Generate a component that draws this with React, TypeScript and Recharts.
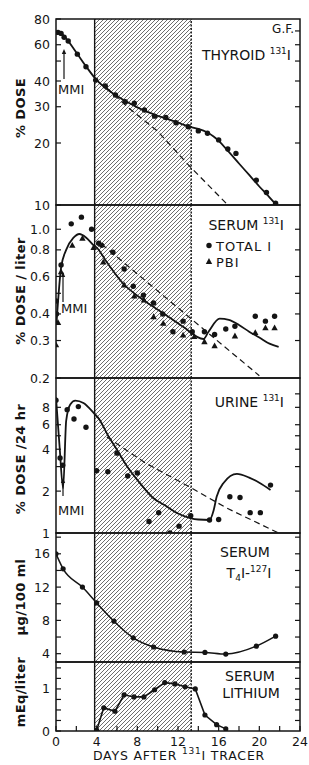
import React from 'react';
import { ComposedChart, Line, Scatter, XAxis, YAxis, ReferenceArea, ReferenceLine } from 'recharts';

const INK = '#141414';
const FONT = '"DejaVu Sans", Verdana, sans-serif';

// thyroid 131I (% dose)
const thyroidDays = [0.2, 0.5, 0.8, 1.2, 2.1, 2.95, 3.9, 4.85, 5.85, 6.8, 7.7, 8.7, 9.7, 10.8, 11.8, 13.0, 14.0, 14.9, 16.0, 16.9, 17.7, 19.7, 20.7, 21.6];
const thyroidDose = [68.9, 68.1, 65.2, 62.6, 54, 46.9, 40.4, 37.8, 34.2, 31.7, 31.2, 28.9, 27, 26.6, 25.1, 24, 22.9, 22.3, 20.7, 18.7, 17.8, 13.2, 11.5, 10.2];
const thyroidFitDays = [0, 0.3, 1, 2, 3, 4, 5, 6, 7, 8, 9, 10, 11, 12, 13, 14, 14.8, 15.5, 16, 17, 18, 19, 20, 21, 21.6];
const thyroidFit = [68, 69, 64.2, 55, 46.8, 40.4, 36.6, 33.8, 31.6, 29.8, 28.3, 27.1, 26.1, 25.1, 24.1, 23.4, 22.6, 21.5, 20.5, 18.1, 15.9, 14.0, 12.3, 10.9, 10.1];
const thyroidExtDays = [5, 7, 10, 13, 16.9];
const thyroidExt = [37, 30, 22.8, 15.7, 10];

// serum 131I (% dose / liter)
const serumTotalDays = [0, 0.05, 0.5, 1.5, 2.5, 3.5, 4.2, 4.5, 5.6, 6.7, 7.6, 8.6, 9.6, 10.5, 11.5, 12.5, 13.4, 14.6, 15.6, 16.7, 17.6, 19.6, 20.6, 21.5];
const serumTotal = [0.46, 0.4, 0.68, 1.06, 1.14, 1.0, 0.86, 0.84, 0.78, 0.65, 0.54, 0.49, 0.45, 0.4, 0.33, 0.37, 0.33, 0.33, 0.32, 0.34, 0.35, 0.39, 0.37, 0.39];
const serumPbiDays = [0, 0.2, 0.5, 1.6, 2.6, 3.7, 4.65, 6.7, 7.7, 8.65, 9.6, 10.55, 12.5, 13.6, 14.6, 15.6, 17.6, 19.6, 20.6, 21.5];
const serumPbi = [0.286, 0.364, 0.63, 0.84, 0.905, 0.82, 0.7, 0.547, 0.485, 0.465, 0.388, 0.361, 0.318, 0.313, 0.296, 0.283, 0.315, 0.327, 0.344, 0.344];
const serumFitDays = [0.05, 0.5, 1.0, 1.7, 2.3, 3.0, 3.7, 4.0, 5, 6.6, 8.6, 10.55, 12.5, 14.5, 15, 16.1, 17, 18, 19, 20, 21, 21.9];
const serumFit = [0.36, 0.66, 0.8, 0.91, 0.95, 0.91, 0.84, 0.82, 0.7, 0.556, 0.465, 0.403, 0.348, 0.305, 0.33, 0.38, 0.375, 0.355, 0.33, 0.31, 0.29, 0.28];
const serumExtDays = [4.5, 20];
const serumExt = [0.85, 0.205];

// urine 131I (% dose / 24 hr)
const urineDays = [0, 0.4, 0.66, 1.1, 1.77, 2.2, 2.95, 4.0, 5.1, 6.0, 7.05, 8.0, 9.15, 10.1, 11.2, 12.1, 13.25, 15.1, 16.0, 17.1, 18.1, 19.1, 20.1, 21.1];
const urineDose = [9.0, 3.46, 3.07, 7.7, 6.6, 8.1, 5.76, 2.8, 2.76, 3.75, 2.57, 2.7, 1.21, 1.4, 1.0, 1.12, 1.33, 1.24, 1.25, 1.82, 1.8, 1.4, 1.4, 2.21];
const urineFitDays = [0, 0.35, 0.7, 1.0, 1.4, 1.9, 2.7, 3.7, 4.3, 5, 6, 7, 8.26, 9.5, 10.9, 12, 13.2, 14, 15.1, 15.5, 15.8, 16.5, 17.8, 19, 20, 21.1];
const urineFit = [9.4, 4.2, 2.1, 6.4, 8.4, 8.95, 8.6, 7.3, 6.5, 5.2, 3.96, 3.0, 2.28, 1.8, 1.55, 1.38, 1.28, 1.25, 1.24, 1.45, 1.82, 2.3, 2.66, 2.5, 2.3, 2.04];
const urineExtDays = [5, 8.75, 13.2, 16.8, 21.9];
const urineExt = [4.9, 3.2, 2.13, 1.51, 1.0];

// serum T4I-127I (ug / 100 ml)
const t4Days = [0, 0.7, 2.6, 4, 5.7, 7.6, 9.6, 12.6, 14.65, 16.7, 19.7, 21.6];
const t4Vals = [16, 14.2, 12, 10.1, 7.9, 5.9, 4.8, 4.2, 4.15, 3.95, 4.9, 6.1];

// serum lithium (mEq / liter)
const liDays = [4, 4.7, 5.8, 6.7, 7.67, 8.65, 9.7, 10.7, 11.7, 12.7, 13.7, 14.65, 15.8, 16.7];
const liVals = [0.02, 0.55, 0.47, 0.86, 0.81, 0.81, 0.98, 1.15, 1.12, 1.05, 1.0, 0.38, 0.15, 0.05];

const X_TICKS = [0, 2, 4, 6, 8, 10, 12, 14, 16, 18, 20, 22, 24];
const LITHIUM_START = 3.8;
const LITHIUM_END = 13.3;

const pts = (xs: number[], ys: number[]) => xs.map((d, i) => ({ day: d, v: ys[i] }));

const PAD = 8;

const dotShape = (p: any) => <circle cx={p.cx} cy={p.cy} r={2.7} fill={INK} />;
const triShape = (p: any) => (
  <polygon points={`${p.cx},${p.cy - 3.4} ${p.cx - 3.2},${p.cy + 2.4} ${p.cx + 3.2},${p.cy + 2.4}`} fill={INK} />
);

type PanelProps = {
  id: string;
  top: number;
  height: number;
  domain: [number, number];
  log?: boolean;
  leftTicks: number[];
  labels: number[];
  rightTicks: number[];
  fmt?: (v: number) => string;
  xLabels?: boolean;
  children: React.ReactNode;
};

function Panel({ id, top, height, domain, log, leftTicks, labels, rightTicks, fmt, xLabels, children }: PanelProps) {
  const extra = xLabels ? 18 : 0;
  const f = fmt || ((v: number) => String(v));
  return (
    <div style={{ position: 'absolute', left: 0, top: top - PAD }}>
      <ComposedChart width={309} height={height + 2 * PAD + extra} margin={{ top: PAD, right: 0, bottom: PAD, left: 0 }}>
        <defs>
          <pattern id={`hatch-${id}`} patternUnits="userSpaceOnUse" width="4" height="4">
            <path d="M-1,1 l2,-2 M0,4 l4,-4 M3,5 l2,-2" stroke="#3c3c3c" strokeWidth={0.75} />
          </pattern>
        </defs>
        <XAxis
          xAxisId="b"
          type="number"
          dataKey="day"
          domain={[0, 24]}
          ticks={X_TICKS}
          interval={0}
          height={extra}
          tickSize={0}
          tickMargin={0}
          axisLine={false}
          allowDataOverflow
          tick={(p: any) => (
            <g>
              <line x1={p.x} x2={p.x} y1={p.y} y2={p.y - 5} stroke={INK} strokeWidth={1.2} />
              {xLabels && p.payload.value % 4 === 0 && (
                <text x={p.x} y={p.y + 15} textAnchor="middle" fontSize={12.5} fontFamily={FONT} fill={INK}>
                  {p.payload.value}
                </text>
              )}
            </g>
          )}
        />
        <XAxis
          xAxisId="t"
          orientation="top"
          type="number"
          dataKey="day"
          domain={[0, 24]}
          ticks={X_TICKS}
          interval={0}
          height={0}
          tickSize={0}
          tickMargin={0}
          axisLine={false}
          allowDataOverflow
          tick={(p: any) => <line x1={p.x} x2={p.x} y1={p.y} y2={p.y + 5} stroke={INK} strokeWidth={1.2} />}
        />
        <YAxis
          yAxisId="l"
          dataKey="v"
          width={56}
          scale={log ? 'log' : 'linear'}
          domain={domain}
          allowDataOverflow
          ticks={leftTicks}
          interval={0}
          tickSize={0}
          tickMargin={0}
          axisLine={false}
          tick={(p: any) => (
            <g>
              <line x1={p.x} x2={p.x + 5} y1={p.y} y2={p.y} stroke={INK} strokeWidth={1.2} />
              {labels.includes(p.payload.value) && (
                <text x={p.x - 6} y={p.y} dy="0.36em" textAnchor="end" fontSize={12.5} fontFamily={FONT} fill={INK}>
                  {f(p.payload.value)}
                </text>
              )}
            </g>
          )}
        />
        <YAxis
          yAxisId="r"
          orientation="right"
          dataKey="v"
          width={9}
          scale={log ? 'log' : 'linear'}
          domain={domain}
          allowDataOverflow
          ticks={rightTicks}
          interval={0}
          tickSize={0}
          tickMargin={0}
          axisLine={false}
          tick={(p: any) => <line x1={p.x} x2={p.x - 5} y1={p.y} y2={p.y} stroke={INK} strokeWidth={1.2} />}
        />
        <ReferenceArea xAxisId="b" yAxisId="l" x1={LITHIUM_START} x2={LITHIUM_END} y1={domain[0]} y2={domain[1]} fill={`url(#hatch-${id})`} fillOpacity={1} stroke="none" />
        <ReferenceLine xAxisId="b" yAxisId="l" x={LITHIUM_START} stroke={INK} strokeWidth={1.4} />
        <ReferenceLine xAxisId="b" yAxisId="l" x={LITHIUM_END} stroke={INK} strokeWidth={1.4} strokeDasharray="2 1.5" />
        <ReferenceArea xAxisId="b" yAxisId="l" x1={0} x2={24} y1={domain[0]} y2={domain[1]} fill="none" stroke={INK} strokeWidth={1.5} />
        {children}
      </ComposedChart>
    </div>
  );
}

const solid = { stroke: INK, strokeWidth: 1.8, dot: false, isAnimationActive: false, xAxisId: 'b', yAxisId: 'l', dataKey: 'v' } as const;
const dashed = { stroke: INK, strokeWidth: 1.2, strokeDasharray: '6 4', dot: false, isAnimationActive: false, xAxisId: 'b', yAxisId: 'l', dataKey: 'v', type: 'linear' } as const;

const txt = { fontFamily: FONT, fill: INK } as const;

function YTitle({ x, y, children }: { x: number; y: number; children: React.ReactNode }) {
  return (
    <text x={x} y={y} transform={`rotate(-90 ${x} ${y})`} textAnchor="middle" fontSize={13} fontWeight={600} letterSpacing={0.4} {...txt}>
      {children}
    </text>
  );
}

// superscript / subscript helpers for isotope labels
const Sup = ({ t }: { t: string }) => (
  <tspan fontSize={9} dy={-6}>
    {t}
  </tspan>
);

function Arrow({ x, y1, y2 }: { x: number; y1: number; y2: number }) {
  return (
    <g>
      <line x1={x} x2={x} y1={y1} y2={y2 + 3} stroke={INK} strokeWidth={1.2} />
      <path d={`M${x - 2.2},${y2 + 5} L${x},${y2} L${x + 2.2},${y2 + 5} Z`} fill={INK} />
    </g>
  );
}

export default function App() {
  return (
    <div style={{ position: 'absolute', left: 0, top: 0, width: 309, height: 765, background: '#fff' }}>
      <Panel id="thy" top={19} height={186} domain={[10, 80]} log leftTicks={[10, 20, 30, 40, 50, 60, 80]} labels={[10, 20, 30, 40, 60, 80]} rightTicks={[20, 30, 40, 50, 60, 70]}>
        <Line {...solid} type="monotone" data={pts(thyroidFitDays, thyroidFit)} />
        <Line {...dashed} data={pts(thyroidExtDays, thyroidExt)} />
        <Scatter xAxisId="b" yAxisId="l" dataKey="v" data={pts(thyroidDays, thyroidDose)} shape={dotShape} isAnimationActive={false} />
      </Panel>
      <Panel id="ser" top={205} height={173} domain={[0.2, 1.3]} log leftTicks={[0.2, 0.3, 0.4, 0.5, 0.6, 0.8, 1.0]} labels={[0.2, 0.3, 0.4, 0.6, 0.8, 1.0]} rightTicks={[0.3, 0.4, 0.5, 0.6, 0.8, 1.0]} fmt={(v) => v.toFixed(1)}>
        <Line {...solid} type="monotone" data={pts(serumFitDays, serumFit)} />
        <Line {...dashed} data={pts(serumExtDays, serumExt)} />
        <Scatter xAxisId="b" yAxisId="l" dataKey="v" data={pts(serumTotalDays, serumTotal)} shape={dotShape} isAnimationActive={false} />
        <Scatter xAxisId="b" yAxisId="l" dataKey="v" data={pts(serumPbiDays, serumPbi)} shape={triShape} isAnimationActive={false} />
      </Panel>
      <Panel id="uri" top={378} height={155} domain={[1, 13]} log leftTicks={[1, 2, 3, 4, 5, 6, 8]} labels={[1, 2, 4, 6, 8]} rightTicks={[2, 3, 4, 5, 6, 8, 10]}>
        <Line {...solid} type="monotone" data={pts(urineFitDays, urineFit)} />
        <Line {...dashed} data={pts(urineExtDays, urineExt)} />
        <Scatter xAxisId="b" yAxisId="l" dataKey="v" data={pts(urineDays, urineDose)} shape={dotShape} isAnimationActive={false} />
      </Panel>
      <Panel id="t4" top={533} height={129} domain={[3, 18.5]} leftTicks={[4, 6, 8, 10, 12, 14, 16, 18]} labels={[4, 8, 12, 16]} rightTicks={[4, 6, 8, 10, 12, 14, 16, 18]}>
        <Line {...solid} type="monotone" strokeWidth={1.5} data={pts(t4Days, t4Vals)} dot={{ r: 2.6, fill: INK, stroke: INK, strokeWidth: 0 }} />
      </Panel>
      <Panel id="li" top={662} height={69} domain={[0, 1.64]} leftTicks={[0, 0.25, 0.5, 0.75, 1, 1.25, 1.5]} labels={[0, 1]} rightTicks={[0.25, 0.5, 0.75, 1, 1.25, 1.5]} xLabels>
        <Line {...solid} type="linear" strokeWidth={1.6} data={pts(liDays, liVals)} dot={{ r: 2.6, fill: INK, stroke: INK, strokeWidth: 0 }} />
      </Panel>

      <svg width={309} height={765} style={{ position: 'absolute', left: 0, top: 0, pointerEvents: 'none' }}>
        <YTitle x={25} y={108}>% DOSE</YTitle>
        <YTitle x={25} y={291}>% DOSE / liter</YTitle>
        <YTitle x={25} y={459}>% DOSE /24 hr</YTitle>
        <YTitle x={25} y={597}>μg/100 ml</YTitle>
        <YTitle x={25} y={692}>mEq/liter</YTitle>

        <text x={294} y={33} textAnchor="end" fontSize={12} {...txt}>G.F.</text>
        <text x={291} y={60} textAnchor="end" fontSize={14} {...txt}>
          THYROID <Sup t="131" />
          <tspan dy={6}>I</tspan>
        </text>

        <text x={284} y={230} textAnchor="end" fontSize={14} {...txt}>
          SERUM <Sup t="131" />
          <tspan dy={6}>I</tspan>
        </text>
        <circle cx={209} cy={245.5} r={2.7} fill={INK} />
        <text x={216} y={250.5} fontSize={13} letterSpacing={1} {...txt}>TOTAL I</text>
        <polygon points="209,258 205.8,264 212.2,264" fill={INK} />
        <text x={216} y={266.5} fontSize={13} letterSpacing={1} {...txt}>PBI</text>

        <text x={284} y={406.5} textAnchor="end" fontSize={14} {...txt}>
          URINE <Sup t="131" />
          <tspan dy={6}>I</tspan>
        </text>

        <text x={245} y={557} textAnchor="middle" fontSize={14} {...txt}>SERUM</text>
        <text x={249} y={578} textAnchor="middle" fontSize={14} {...txt}>
          T<tspan fontSize={9} dy={3}>4</tspan>
          <tspan dy={-3}>I-</tspan>
          <Sup t="127" />
          <tspan dy={6}>I</tspan>
        </text>

        <text x={250} y={681} textAnchor="middle" fontSize={14} {...txt}>SERUM</text>
        <text x={251} y={698} textAnchor="middle" fontSize={14} {...txt}>LITHIUM</text>

        <text x={58} y={94} fontSize={13} {...txt}>MMI</text>
        <Arrow x={64} y1={79} y2={49} />
        <text x={61} y={313} fontSize={13} {...txt}>MMI</text>
        <Arrow x={63} y1={302} y2={272} />
        <text x={58} y={515} fontSize={13} {...txt}>MMI</text>
        <Arrow x={63} y1={496} y2={478} />

        <text x={179} y={760} textAnchor="middle" fontSize={12.5} letterSpacing={0.8} {...txt}>
          DAYS AFTER <Sup t="131" />
          <tspan dy={6}>I</tspan> TRACER
        </text>
      </svg>
    </div>
  );
}
